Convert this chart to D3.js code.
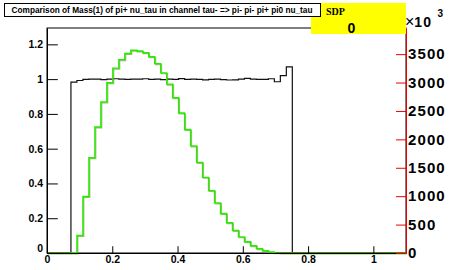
<!DOCTYPE html>
<html><head><meta charset="utf-8">
<script src="https://cdn.jsdelivr.net/npm/d3@7"></script>
<style>
html,body{margin:0;padding:0;background:#fff;}
svg{display:block;}
</style></head>
<body>
<script>
// ---- data ----
const titleText = "Comparison of Mass(1) of pi+ nu_tau in channel tau- => pi- pi- pi+ pi0 nu_tau";
const nBins = 60;
const xMin = 0, xMax = 1.1;
const greenValues = [0,0,0,0,0,
  0.101,0.325,0.548,0.725,0.868,0.979,1.063,1.112,1.147,1.166,
  1.162,1.152,1.129,1.089,1.036,0.971,0.893,0.805,0.710,0.616,
  0.521,0.435,0.359,0.288,0.227,0.174,0.130,0.093,0.065,0.042,
  0.025,0.013,0.006,0.002,0,0,0,0,0,0,
  0,0,0,0,0,0,0,0,0,0,0,0,0,0,0];
const blackValues = [0,0,0,0,
  0.983,0.992,0.998,1.0,1.0,0.997,1.0,1.002,1.0,0.998,
  1.0,1.0,1.002,0.999,1.0,0.997,1.0,0.999,1.003,0.998,
  1.0,0.998,0.996,0.998,1.0,0.997,0.995,0.996,1.0,1.004,
  1.0,0.999,0.998,1.002,0.985,1.02,1.07,
  0,0,0,0,0,0,0,0,0,0,0,0,0,0,0,0,0,0,0];
const xTicks = [0,0.2,0.4,0.6,0.8,1];
const yTicks = [0,0.2,0.4,0.6,0.8,1,1.2];
const rightTicks = [0,500,1000,1500,2000,2500,3000,3500];
const sdpLabel = "SDP", sdpValue = "0";

// ---- layout ----
const W = 452, H = 270;
const L = 47, R = 406, T = 28, B = 253;
const svg = d3.select("body").append("svg").attr("width", W).attr("height", H);

const x = d3.scaleLinear().domain([xMin, xMax]).range([L, R]);
const y = d3.scaleLinear().domain([0, 1.294]).range([B, T]);
const yR = d3.scaleLinear().domain([0, 3960]).range([B, T]);
const bw = (xMax - xMin) / nBins;

function histPath(vals) {
  const p = d3.path();
  p.moveTo(x(xMin), y(0));
  vals.forEach((v, i) => {
    p.lineTo(x(xMin + i * bw), y(v));
    p.lineTo(x(xMin + (i + 1) * bw), y(v));
  });
  p.lineTo(x(xMax), y(0));
  return p.toString();
}

// frame
svg.append("rect").attr("x", L).attr("y", T).attr("width", R - L).attr("height", B - T)
  .attr("fill", "none").attr("stroke", "#000").attr("stroke-width", 1);

// histograms
svg.append("path").attr("d", histPath(blackValues)).attr("fill", "none")
  .attr("stroke", "#111").attr("stroke-width", 1.2);
svg.append("path").attr("d", histPath(greenValues)).attr("fill", "none")
  .attr("stroke", "#6a8a20").attr("stroke-width", 1.4).attr("stroke-opacity", 0.6)
  .attr("transform", "translate(0.8,0.8)");
svg.append("path").attr("d", histPath(greenValues)).attr("fill", "none")
  .attr("stroke", "#22ee00").attr("stroke-width", 1.4);
// baseline where green lies on the axis appears olive in the reference
svg.append("line").attr("x1", x(0)).attr("x2", x(0.07)).attr("y1", B).attr("y2", B)
  .attr("stroke", "#4a7a10").attr("stroke-width", 1.6);
svg.append("line").attr("x1", x(0.7)).attr("x2", x(xMax)).attr("y1", B).attr("y2", B)
  .attr("stroke", "#4a7a10").attr("stroke-width", 1.6);

const font = "'Liberation Sans', Arial, Helvetica, sans-serif";

// left axis
const gL = svg.append("g").attr("transform", `translate(${L},0)`);
gL.call(d3.axisLeft(y).tickValues(d3.range(0, 1.2901, 0.05)).tickSize(-5.4).tickFormat(""));
gL.call(d3.axisLeft(y).tickValues(yTicks).tickSize(-10.8).tickSizeOuter(0).tickPadding(4)
  .tickFormat(d => String(+d.toFixed(1))));
gL.selectAll("path.domain").attr("stroke", "#000");
gL.selectAll("text").attr("font-family", font).attr("font-weight", "bold").attr("font-size", "10.5px")
  .attr("fill", "#000");
gL.selectAll(".tick").filter(d => d === 0).select("text").attr("dy", "-0.1em");

// bottom axis
const gB = svg.append("g").attr("transform", `translate(0,${B})`);
gB.call(d3.axisBottom(x).tickValues(d3.range(0, 1.1001, 0.05)).tickSize(-3.4).tickFormat(""));
gB.call(d3.axisBottom(x).tickValues(xTicks).tickSize(-6.75).tickSizeOuter(0).tickPadding(3)
  .tickFormat(d => String(+d.toFixed(1))));
gB.selectAll("path.domain").attr("stroke", "#000");
gB.selectAll("text").attr("font-family", font).attr("font-weight", "bold").attr("font-size", "10.5px")
  .attr("fill", "#000");

// right axis (red)
const gR = svg.append("g").attr("transform", `translate(${R},0)`);
gR.call(d3.axisRight(yR).tickValues(d3.range(0, 3901, 100)).tickSize(-5).tickFormat(""));
gR.call(d3.axisRight(yR).tickValues(rightTicks).tickSize(-10).tickSizeOuter(0).tickPadding(2)
  .tickFormat(d => String(d)));
gR.selectAll("line").attr("stroke", "#e00");
gR.selectAll("path.domain").attr("stroke", "#e00");
gR.selectAll("text").attr("font-family", font).attr("font-weight", "bold").attr("font-size", "15px")
  .attr("letter-spacing", "1.1px").attr("fill", "#000");

// x10^3
const mult = svg.append("text").attr("x", 405).attr("y", 27).attr("font-family", font)
  .attr("font-size", "14px").attr("fill", "#000");
mult.append("tspan").attr("font-size", "16px").text("\u00d7");
mult.append("tspan").attr("font-weight", "bold").attr("letter-spacing", "1px").text("10");
svg.append("text").attr("x", 437.5).attr("y", 16.7).attr("font-family", font).attr("font-weight", "bold")
  .attr("font-size", "10px").attr("fill", "#000").text("3");

// SDP box
svg.append("rect").attr("x", 311).attr("y", 3).attr("width", 95).attr("height", 31).attr("fill", "#ffff00");
svg.append("text").attr("x", 326).attr("y", 15).attr("font-family", "'Liberation Serif', 'Times New Roman', serif")
  .attr("font-weight", "bold").attr("font-size", "10px").attr("fill", "#000").text(sdpLabel);
svg.append("text").attr("x", 351.5).attr("y", 33).attr("text-anchor", "middle").attr("font-family", font)
  .attr("font-weight", "bold").attr("font-size", "14px").attr("fill", "#000").text(sdpValue);

// title box
svg.append("rect").attr("x", 4.5).attr("y", 3.5).attr("width", 316).attr("height", 13)
  .attr("fill", "#fff").attr("stroke", "#000").attr("stroke-width", 1);
svg.append("text").attr("x", 162).attr("y", 13.3).attr("text-anchor", "middle").attr("font-family", font)
  .attr("font-weight", "bold").attr("font-size", "8.4px").attr("fill", "#000")
  .attr("textLength", 301).attr("lengthAdjust", "spacingAndGlyphs").text(titleText);
</script>
</body></html>
